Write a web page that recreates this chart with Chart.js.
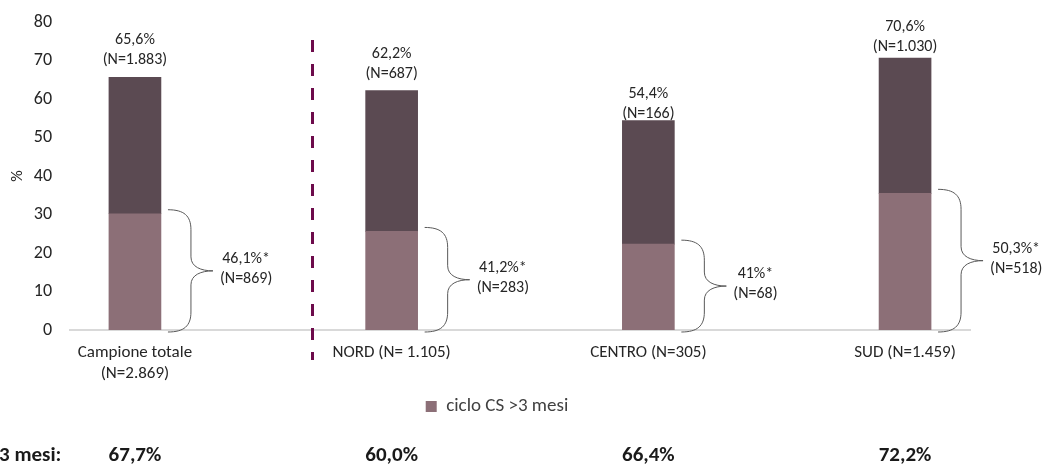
<!DOCTYPE html>
<html>
<head>
<meta charset="utf-8">
<script src="https://cdn.jsdelivr.net/npm/chart.js@4.4.0/dist/chart.umd.min.js"></script>
<style>
  html, body { margin: 0; padding: 0; background: #ffffff; }
  #wrap { width: 1049px; height: 465px; }
</style>
</head>
<body>
<div id="wrap"><canvas id="chart" width="1049" height="465"></canvas></div>
<script>
// ---- data ----
const categories = [['Campione totale', '(N=2.869)'], 'NORD (N= 1.105)', 'CENTRO (N=305)', 'SUD (N=1.459)'];
const over3Values = [30.2, 25.6, 22.3, 35.5];      // ciclo CS >3 mesi
const restValues = [35.4, 36.6, 32.1, 35.1];       // remainder up to the total
const totalLabels = ['65,6%', '62,2%', '54,4%', '70,6%'];
const totalCounts = ['(N=1.883)', '(N=687)', '(N=166)', '(N=1.030)'];
const over3Labels = ['46,1%*', '41,2%*', '41%*', '50,3%*'];
const over3Counts = ['(N=869)', '(N=283)', '(N=68)', '(N=518)'];
const footerLabel = '3 mesi:';
const footerValues = ['67,7%', '60,0%', '66,4%', '72,2%'];
const yTickValues = [0, 10, 20, 30, 40, 50, 60, 70, 80];

// ---- look ----
const FONT = 'Carlito, Lato, "Open Sans", sans-serif';
const TEXT = '#262626';
const LIGHT = '#8c6f77';
const DARK = '#5b4a52';
const labelLift = [17, 17, 7, 11];           // gap between bar top and its count line
const divider = { at: 0.69, from: 75.3, to: -7.8 };
const legendShift = 12;                      // nudge the legend a little to the right

const annotate = {
  id: 'annotate',
  afterLayout(chart) {
    if (chart.legend) {
      chart.legend.left += legendShift;
      chart.legend.right += legendShift;
    }
  },
  afterDatasetsDraw(chart) {
    const ctx = chart.ctx;
    const xs = chart.scales.x, ys = chart.scales.y;
    const topMeta = chart.getDatasetMeta(1);
    const lowMeta = chart.getDatasetMeta(0);
    ctx.save();

    // divider between the full sample and the regions
    ctx.strokeStyle = '#6d0b4b';
    ctx.lineWidth = 3;
    ctx.setLineDash([12, 12]);
    ctx.beginPath();
    const dx = Math.round(xs.getPixelForValue(divider.at)) + 0.5;
    ctx.moveTo(dx, ys.getPixelForValue(divider.from));
    ctx.lineTo(dx, ys.getPixelForValue(divider.to));
    ctx.stroke();
    ctx.setLineDash([]);

    ctx.fillStyle = TEXT;
    ctx.font = '16px ' + FONT;
    ctx.textAlign = 'center';
    ctx.textBaseline = 'middle';

    topMeta.data.forEach((bar, i) => {
      // totals above each bar
      const yCount = bar.y - labelLift[i];
      ctx.fillText(totalCounts[i], bar.x, yCount);
      ctx.fillText(totalLabels[i], bar.x, yCount - 20);
    });

    // braces around the >3 mesi segment
    lowMeta.data.forEach((bar, i) => {
      const x0 = bar.x + bar.width / 2 + 7;
      const top = bar.y - 4;
      const bottom = ys.getPixelForValue(0) + 2;
      const mid = (top + bottom) / 2;
      const xv = x0 + 23, tip = x0 + 45;
      ctx.strokeStyle = '#595959';
      ctx.lineWidth = 1;
      ctx.beginPath();
      ctx.moveTo(x0, top);
      ctx.bezierCurveTo(x0 + 16, top, xv, top + 6, xv, top + 20);
      ctx.lineTo(xv, mid - 14);
      ctx.bezierCurveTo(xv, mid - 4, xv + 10, mid, tip, mid);
      ctx.bezierCurveTo(xv + 10, mid, xv, mid + 4, xv, mid + 14);
      ctx.lineTo(xv, bottom - 20);
      ctx.bezierCurveTo(xv, bottom - 6, x0 + 16, bottom, x0, bottom);
      ctx.stroke();

      const w = Math.max(ctx.measureText(over3Labels[i]).width, ctx.measureText(over3Counts[i]).width);
      const cx = tip + 7 + w / 2;
      ctx.fillText(over3Labels[i], cx, mid - 12);
      ctx.fillText(over3Counts[i], cx, mid + 8);
    });

    // footer row
    ctx.font = 'bold 21px ' + FONT;
    ctx.fillStyle = '#1a1a1a';
    ctx.textAlign = 'left';
    ctx.fillText(footerLabel, -1, 456);
    ctx.textAlign = 'center';
    topMeta.data.forEach((bar, i) => {
      ctx.fillText(footerValues[i], bar.x, 456);
    });
    ctx.restore();
  }
};

new Chart(document.getElementById('chart'), {
  type: 'bar',
  data: {
    datasets: [
      {
        label: 'ciclo CS >3 mesi',
        data: over3Values.map((v, i) => ({ x: i, y: v })),
        backgroundColor: LIGHT,
        barThickness: 52
      },
      {
        label: 'ciclo CS ≤3 mesi',
        data: restValues.map((v, i) => ({ x: i, y: v })),
        backgroundColor: DARK,
        barThickness: 52
      }
    ]
  },
  options: {
    responsive: false,
    devicePixelRatio: 1,
    animation: false,
    layout: { padding: { top: 22, right: 79, bottom: 39, left: 0 } },
    plugins: {
      tooltip: { enabled: false },
      legend: {
        position: 'bottom',
        labels: {
          filter: (item) => item.datasetIndex === 0,
          boxWidth: 11,
          boxHeight: 11,
          padding: 7,
          color: '#404040',
          font: { family: FONT, size: 19 }
        }
      }
    },
    scales: {
      x: {
        type: 'linear',
        offset: false,
        stacked: true,
        min: -0.253,
        max: 3.253,
        afterBuildTicks: (s) => { s.ticks = categories.map((c, i) => ({ value: i })); },
        afterFit: (s) => { s.height = 60; },
        grid: { display: false, drawTicks: false },
        border: { display: true, color: '#d9d9d9', width: 2 },
        ticks: {
          autoSkip: false,
          maxRotation: 0,
          padding: 13,
          color: TEXT,
          font: { family: FONT, size: 17, lineHeight: 1.2 },
          callback: (v) => categories[v]
        }
      },
      y: {
        stacked: true,
        min: 0,
        max: 80,
        afterBuildTicks: (s) => { s.ticks = yTickValues.map((v) => ({ value: v })); },
        afterFit: (s) => { s.width = 70; s.paddingTop = 0; s.paddingBottom = 0; },
        grid: { display: false, drawTicks: false },
        border: { display: false },
        title: {
          display: true,
          text: '%',
          color: TEXT,
          font: { family: FONT, size: 16 },
          padding: { top: 8, bottom: 0 }
        },
        ticks: {
          padding: 18,
          color: TEXT,
          font: { family: FONT, size: 18 }
        }
      }
    }
  },
  plugins: [annotate]
});
</script>
</body>
</html>
